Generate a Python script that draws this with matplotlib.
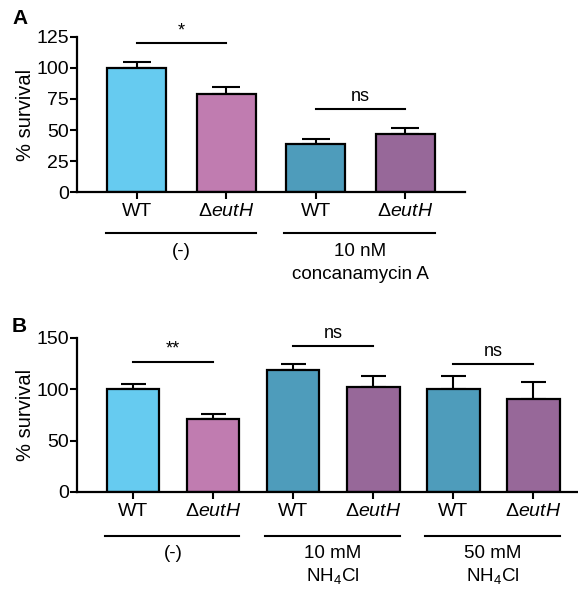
import numpy as np
import matplotlib
matplotlib.use('Agg')
import matplotlib.pyplot as plt
import matplotlib.transforms as mtransforms

plt.rcParams['font.family'] = ['Liberation Sans', 'DejaVu Sans']
plt.rcParams['mathtext.fontset'] = 'custom'
plt.rcParams['mathtext.rm'] = 'Liberation Sans'
plt.rcParams['mathtext.it'] = 'Liberation Sans:italic'

# data
strain_labels = ['WT', r'$\mathregular{\Delta}\mathit{eutH}$']
colors_a = ['#66CBF0', '#C07CB0', '#4E9CBB', '#976899']
colors_b = ['#66CBF0', '#C07CB0', '#4E9CBB', '#976899', '#4E9CBB', '#976899']

a_means = [100, 79, 39, 47]
a_err = [5, 6, 4, 5]
a_groups = [['(-)'], ['10 nM', 'concanamycin A']]
a_sig = [(0, 1, 120, '*'), (2, 3, 67, 'ns')]

b_means = [100, 71, 119, 102, 100, 91]
b_err = [5, 5, 6, 11, 13, 16]
b_groups = [['(-)'], ['10 mM', r'NH$_{\mathregular{4}}$Cl'], ['50 mM', r'NH$_{\mathregular{4}}$Cl']]
b_sig = [(0, 1, 127, '**'), (2, 3, 142, 'ns'), (4, 5, 125, 'ns')]

fig = plt.figure(figsize=(5.78, 5.89), dpi=100)


def draw_panel(ax, means, err, colors, groups, sig, ymax, yticks, capsize,
               line_y, text_y, text_dy, sig_off):
    x = np.arange(len(means))
    ax.errorbar(x, means, yerr=[np.zeros(len(err)), err], fmt='none', ecolor='black',
                elinewidth=1.5, capsize=capsize, capthick=1.5, zorder=1)
    ax.bar(x, means, width=0.66, color=colors, edgecolor='black', linewidth=1.6, zorder=2)
    ax.set_ylim(0, ymax)
    ax.set_yticks(yticks)
    ax.set_xticks(x)
    ax.set_xticklabels(strain_labels * (len(means) // 2), fontsize=14)
    ax.tick_params(axis='y', labelsize=14, width=1.5, length=5, pad=1)
    ax.tick_params(axis='x', width=1.5, length=5, pad=3)
    for s in ['top', 'right']:
        ax.spines[s].set_visible(False)
    for s in ['left', 'bottom']:
        ax.spines[s].set_linewidth(1.6)
    ax.set_ylabel('% survival', fontsize=14.5, labelpad=1)

    # group lines + labels under the axis
    trans = mtransforms.blended_transform_factory(ax.transData, ax.transAxes)
    for i, lines in enumerate(groups):
        x0, x1 = 2 * i, 2 * i + 1
        ax.plot([x0 - 0.35, x1 + 0.33], [line_y, line_y], color='black', lw=1.5,
                transform=trans, clip_on=False)
        for j, t in enumerate(lines):
            ax.text((x0 + x1) / 2, text_y - j * text_dy, t, transform=trans,
                    ha='center', va='center', fontsize=13.5)

    # significance bars
    for i0, i1, y, t in sig:
        ax.plot([i0, i1], [y, y], color='black', lw=1.5, clip_on=False)
        ax.text((i0 + i1) / 2, y + sig_off, t, ha='center', va='bottom', fontsize=13)


# panel A
ax1 = fig.add_axes([0.1332, 0.674, 0.6713, 0.2632])
ax1.set_xlim(-0.67, 3.67)
draw_panel(ax1, a_means, a_err, colors_a, a_groups, a_sig, 125, [0, 25, 50, 75, 100, 125],
           10, -0.265, -0.385, 0.148, 3)

# panel B
ax2 = fig.add_axes([0.1332, 0.1647, 0.8668, 0.2615])
ax2.set_xlim(-0.7, 5.56)
draw_panel(ax2, b_means, b_err, colors_b, b_groups, b_sig, 150, [0, 50, 100, 150],
           9, -0.284, -0.40, 0.143, 4)

fig.text(12 / 578, 1 - 18 / 589, 'A', fontsize=15, fontweight='bold', va='center')
fig.text(12 / 578, 1 - 327 / 589, 'B', fontsize=15, fontweight='bold', va='center')

plt.savefig('out.png', dpi=100)
